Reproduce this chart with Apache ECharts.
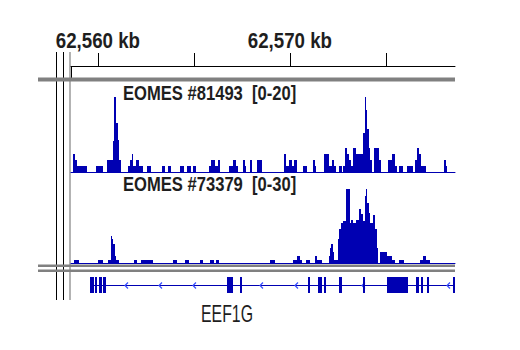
<!DOCTYPE html>
<html><head><meta charset="utf-8">
<script src="https://cdn.jsdelivr.net/npm/echarts@6/dist/echarts.min.js"></script>
<style>html,body{margin:0;padding:0;background:#fff}#c{width:520px;height:350px}</style>
</head><body><div id="c"></div>
<script>
// Visible locus (kb)
const REGION_KB = [62558.6, 62578.6];
const RULER_TICKS_KB = [62560, 62565, 62570, 62575];
const RULER_LABELS_KB = [62560, 62570];

// Track 1: [start kb, end kb, value]
const TRACK1_NAME = 'EOMES #81493';
const TRACK1_RANGE = [0, 20];
const TRACK1_SEGMENTS = [
 [62558.69,62558.81,4.1],[62558.81,62558.93,2.7],[62558.93,62559.45,1.4],[62559.90,62560.25,1.4],
 [62560.49,62560.77,2.7],[62560.77,62560.86,7.0],[62560.86,62560.94,16.6],[62560.94,62561.05,11.0],
 [62561.05,62561.10,7.1],[62561.10,62561.19,2.7],[62561.57,62561.67,1.4],[62561.67,62561.76,2.7],
 [62561.76,62561.84,4.1],[62561.84,62561.99,1.4],[62561.99,62562.13,2.7],[62562.13,62562.37,1.4],
 [62562.57,62562.75,1.4],[62563.34,62563.48,1.4],[62563.65,62563.79,1.4],[62564.28,62564.49,1.4],
 [62564.66,62564.83,1.4],[62564.97,62565.11,1.4],[62565.80,62565.91,1.4],[62565.91,62566.12,2.7],
 [62566.12,62566.26,1.4],[62566.26,62566.36,2.7],[62566.84,62567.05,1.4],[62567.05,62567.19,2.7],
 [62567.19,62567.30,1.4],[62567.57,62567.66,2.7],[62567.66,62567.71,1.4],[62567.92,62568.03,2.7],
 [62568.27,62568.53,2.7],[62569.69,62569.80,4.1],[62569.80,62569.97,1.4],[62569.97,62570.11,2.7],
 [62570.11,62570.21,1.4],[62570.21,62570.36,2.7],[62570.67,62570.88,1.4],[62571.22,62571.32,2.7],
 [62571.32,62571.36,1.4],[62571.78,62572.02,4.1],[62572.02,62572.18,1.4],[62572.18,62572.30,2.7],
 [62572.30,62572.40,1.4],[62572.56,62572.71,1.4],[62572.75,62572.86,1.4],[62572.86,62572.96,5.4],
 [62572.96,62573.06,4.1],[62573.06,62573.17,2.7],[62573.17,62573.30,1.4],[62573.30,62573.44,5.4],
 [62573.44,62573.82,4.1],[62573.82,62573.90,8.7],[62573.90,62573.96,16.6],[62573.96,62574.03,13.8],
 [62574.03,62574.11,9.6],[62574.11,62574.17,5.3],[62574.17,62574.26,2.7],[62574.38,62574.66,5.4],
 [62574.66,62574.73,2.7],[62575.11,62575.32,2.7],[62575.32,62575.49,4.1],[62575.49,62575.56,1.4],
 [62575.67,62575.88,1.4],[62576.08,62576.40,1.4],[62576.53,62576.60,2.7],[62576.60,62576.71,5.4],
 [62576.71,62576.81,4.1],[62576.81,62577.09,1.4],[62578.03,62578.13,2.7],[62578.13,62578.18,1.4]
];

// Track 2: [start kb, end kb, value]
const TRACK2_NAME = 'EOMES #73379';
const TRACK2_RANGE = [0, 30];
const TRACK2_SEGMENTS = [
 [62558.76,62559.00,1.0],[62560.02,62560.25,1.0],[62560.54,62560.67,1.0],[62560.67,62560.74,9.1],
 [62560.74,62560.80,8.2],[62560.80,62560.88,6.6],[62560.88,62560.94,2.4],[62560.94,62561.08,1.0],
 [62561.88,62562.05,1.0],[62562.26,62562.89,1.0],[62563.90,62564.11,1.0],[62564.52,62564.73,1.0],
 [62565.32,62565.49,1.0],[62565.84,62566.05,1.0],[62566.15,62566.32,1.0],[62568.96,62569.21,1.0],
 [62570.18,62570.36,1.0],[62570.36,62570.53,2.4],[62570.53,62570.62,1.0],[62570.84,62571.05,1.0],
 [62571.29,62571.40,2.4],[62571.40,62571.67,1.0],[62572.02,62572.09,2.4],[62572.09,62572.16,5.1],
 [62572.16,62572.23,6.6],[62572.23,62572.30,3.9],[62572.30,62572.51,1.0],[62572.51,62572.58,8.3],
 [62572.58,62572.65,11.7],[62572.65,62572.78,13.6],[62572.78,62572.92,14.4],[62572.92,62573.13,25.3],
 [62573.13,62573.20,13.6],[62573.20,62573.30,14.6],[62573.30,62573.43,13.6],[62573.43,62573.58,14.6],
 [62573.58,62573.69,18.4],[62573.69,62573.79,16.8],[62573.79,62573.90,14.4],[62573.90,62573.96,22.8],
 [62573.96,62574.03,25.3],[62574.03,62574.11,20.4],[62574.11,62574.17,17.2],[62574.17,62574.34,13.6],
 [62574.34,62574.43,16.3],[62574.43,62574.52,11.7],[62574.52,62574.61,5.1],[62574.69,62575.04,3.9],
 [62575.04,62575.32,2.4],[62575.32,62575.46,1.0],[62575.70,62575.94,1.0],[62576.78,62576.95,1.0],
 [62576.95,62577.09,2.4],[62577.09,62577.30,1.0]
];

// Gene model
const GENE_NAME = 'EEF1G';
const GENE_SPAN_KB = [[62559.59, 62578.6]];
const GENE_EXONS_KB = [
 [62559.59,62559.80],[62559.87,62559.97],[62560.07,62560.20],[62560.28,62560.42],
 [62566.73,62567.04],[62567.40,62567.51],[62570.94,62571.05],[62571.46,62571.67],
 [62571.78,62571.88],[62572.56,62572.71],[62573.81,62573.91],[62575.06,62576.15],
 [62576.57,62576.73],[62576.83,62576.93],[62577.14,62577.25],[62578.50,62578.60]
];
const GENE_STRAND_MARKS_KB = [62561.41, 62563.18, 62564.95, 62568.44, 62570.27, 62573.75, 62578.18];

const BLUE = '#0000b2';
const TEXT = '#1e1e1e';
const FONT = "'Liberation Sans', Arial, sans-serif";

function coverageItem(params, api) {
  const p0 = api.coord([api.value(0), 0]);
  const p1 = api.coord([api.value(1), api.value(2)]);
  const x0 = Math.round(p0[0]), x1 = Math.round(p1[0]);
  const yb = Math.round(p0[1]), yt = Math.round(p1[1]);
  return {type: 'rect', shape: {x: x0, y: yt, width: Math.max(1, x1 - x0), height: yb - yt},
          style: {fill: BLUE}};
}
function exonItem(params, api) {
  const p0 = api.coord([api.value(0), 0]);
  const p1 = api.coord([api.value(1), 1]);
  const x0 = Math.round(p0[0]), x1 = Math.round(p1[0]);
  return {type: 'rect', shape: {x: x0, y: p1[1], width: Math.max(2, x1 - x0), height: p0[1] - p1[1]},
          style: {fill: BLUE}};
}
function intronItem(params, api) {
  const p0 = api.coord([api.value(0), 0.5]);
  const p1 = api.coord([api.value(1), 0.5]);
  const y = Math.round(p0[1]) + 0.5;
  return {type: 'line', shape: {x1: p0[0], y1: y, x2: p1[0], y2: y}, style: {stroke: BLUE, lineWidth: 1}};
}
function strandItem(params, api) {
  const p = api.coord([api.value(0), 0.5]);
  const x = Math.round(p[0]), y = Math.round(p[1]) + 0.5;
  return {type: 'polyline', shape: {points: [[x + 3, y - 3], [x, y], [x + 3, y + 3]]},
          style: {stroke: '#3a50ff', lineWidth: 1.2, fill: null}};
}

const chart = echarts.init(document.getElementById('c'), null, {renderer: 'svg'});
const hiddenX = (gi, showLine) => ({
  type: 'value', gridIndex: gi, min: REGION_KB[0], max: REGION_KB[1],
  axisLine: {show: showLine, onZero: false, lineStyle: {color: BLUE, width: 1}},
  axisTick: {show: false}, axisLabel: {show: false}, splitLine: {show: false}
});
const hiddenY = (gi, range) => ({
  type: 'value', gridIndex: gi, min: range[0], max: range[1],
  axisLine: {show: false}, axisTick: {show: false}, axisLabel: {show: false}, splitLine: {show: false}
});

const frame = [
  {type: 'line', shape: {x1: 56.5, y1: 52, x2: 56.5, y2: 300}, style: {stroke: '#000', lineWidth: 1}, silent: true},
  {type: 'line', shape: {x1: 63.5, y1: 52, x2: 63.5, y2: 300}, style: {stroke: '#000', lineWidth: 1}, silent: true},
  {type: 'line', shape: {x1: 70, y1: 52, x2: 70, y2: 300}, style: {stroke: '#9a9a9a', lineWidth: 1.5}, silent: true},
  {type: 'line', shape: {x1: 71.5, y1: 66, x2: 71.5, y2: 78}, style: {stroke: '#000', lineWidth: 1}, silent: true},
  {type: 'rect', shape: {x: 38, y: 77.5, width: 417, height: 4}, style: {fill: '#808080'}, silent: true},
  {type: 'rect', shape: {x: 38, y: 264.5, width: 417, height: 2.5}, style: {fill: '#808080'}, silent: true},
  {type: 'rect', shape: {x: 38, y: 269.5, width: 417, height: 2.5}, style: {fill: '#808080'}, silent: true},
  {type: 'text', x: 123, y: 83, scaleX: 0.83, silent: true,
   style: {text: TRACK1_NAME + '  [' + TRACK1_RANGE[0] + '-' + TRACK1_RANGE[1] + ']',
           fontFamily: FONT, fontWeight: 'bold', fontSize: 20, fill: TEXT, textVerticalAlign: 'top'}},
  {type: 'text', x: 123, y: 174, scaleX: 0.83, silent: true,
   style: {text: TRACK2_NAME + '  [' + TRACK2_RANGE[0] + '-' + TRACK2_RANGE[1] + ']',
           fontFamily: FONT, fontWeight: 'bold', fontSize: 20, fill: TEXT, textVerticalAlign: 'top'}},
  {type: 'text', x: 227, y: 302, scaleX: 0.69, silent: true,
   style: {text: GENE_NAME, fontFamily: FONT, fontWeight: 'normal', fontSize: 23, fill: TEXT,
           textAlign: 'center', textVerticalAlign: 'top'}}
];

chart.setOption({
  animation: false,
  grid: [
    {left: 71, width: 384, top: 82, height: 90},
    {left: 71, width: 384, top: 175, height: 88},
    {left: 71, width: 384, top: 277, height: 16},
    {left: 71, width: 384, top: 66, height: 1}
  ],
  xAxis: [
    hiddenX(0, true), hiddenX(1, true), hiddenX(2, false),
    {
      type: 'value', gridIndex: 3, position: 'top', min: REGION_KB[0], max: REGION_KB[1],
      axisLine: {show: true, onZero: false, lineStyle: {color: '#000', width: 1}},
      axisTick: {show: true, inside: false, length: 13, customValues: RULER_TICKS_KB,
                 lineStyle: {color: '#000', width: 1}},
      axisLabel: {show: false},
      splitLine: {show: false}
    }
  ],
  yAxis: [
    hiddenY(0, TRACK1_RANGE), hiddenY(1, TRACK2_RANGE), hiddenY(2, [0, 1]), hiddenY(3, [0, 1])
  ],
  series: [
    {type: 'custom', xAxisIndex: 0, yAxisIndex: 0, renderItem: coverageItem, data: TRACK1_SEGMENTS,
     encode: {x: [0, 1], y: 2}, clip: true, silent: true},
    {type: 'custom', xAxisIndex: 1, yAxisIndex: 1, renderItem: coverageItem, data: TRACK2_SEGMENTS,
     encode: {x: [0, 1], y: 2}, clip: true, silent: true},
    {type: 'custom', xAxisIndex: 2, yAxisIndex: 2, renderItem: intronItem, data: GENE_SPAN_KB,
     encode: {x: [0, 1]}, clip: true, silent: true},
    {type: 'custom', xAxisIndex: 2, yAxisIndex: 2, renderItem: strandItem, data: GENE_STRAND_MARKS_KB.map(v => [v]),
     encode: {x: 0}, clip: true, silent: true},
    {type: 'custom', xAxisIndex: 2, yAxisIndex: 2, renderItem: exonItem, data: GENE_EXONS_KB,
     encode: {x: [0, 1]}, clip: true, silent: true}
  ],
  graphic: frame
});

// Ruler labels, placed through the ruler axis scale (condensed like the reference)
const rulerLabels = RULER_LABELS_KB.map(v => {
  const px = chart.convertToPixel({xAxisIndex: 3}, v);
  return {type: 'text', x: px, y: 51, scaleX: 0.85, silent: true,
          style: {text: Math.round(v).toLocaleString('en-US') + ' kb', fontFamily: FONT, fontWeight: 'bold',
                  fontSize: 22, fill: TEXT, textAlign: 'center', textVerticalAlign: 'bottom'}};
});
chart.setOption({graphic: frame.concat(rulerLabels)});
</script></body></html>
